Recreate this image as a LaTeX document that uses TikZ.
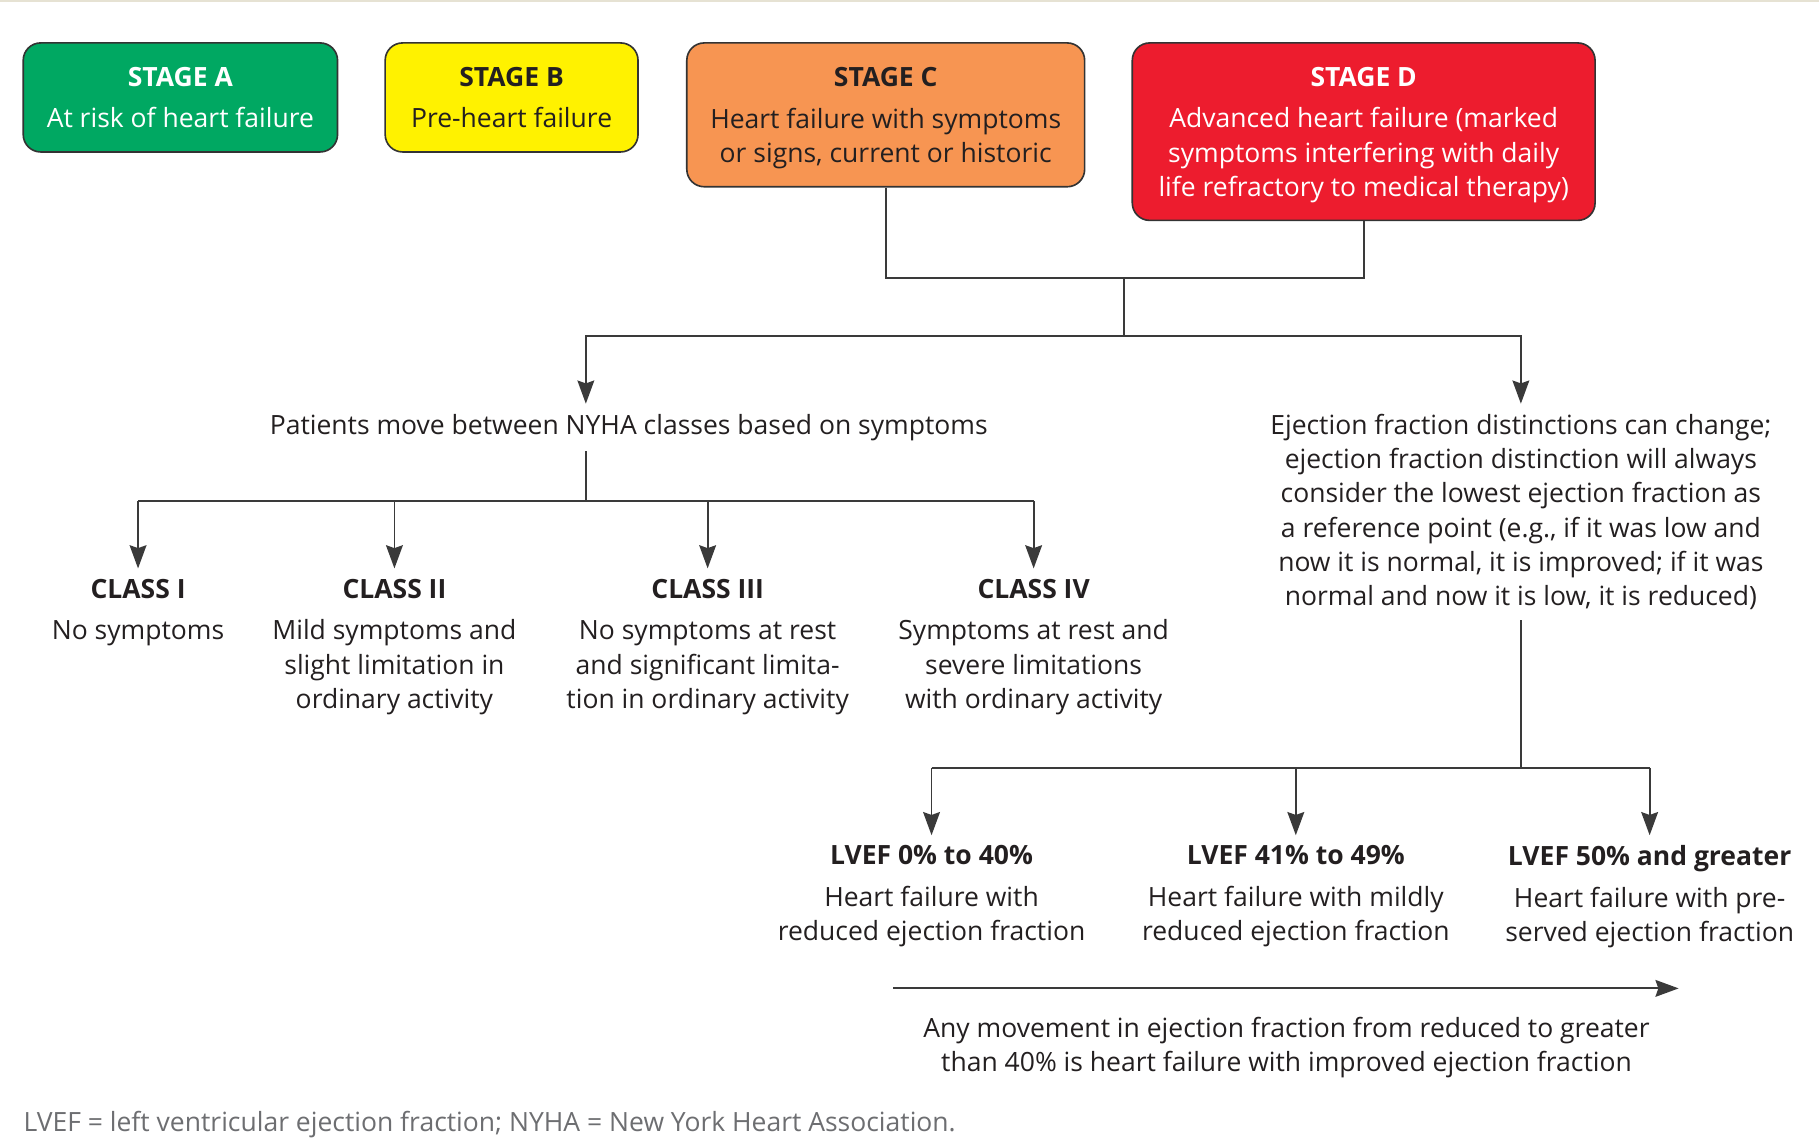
\documentclass[tikz,border=0pt]{standalone}
\usepackage{fontspec}
\setmainfont{Open Sans}
\usetikzlibrary{arrows.meta}

\definecolor{stagea}{HTML}{00A862}
\definecolor{stageb}{HTML}{FFF200}
\definecolor{stagec}{HTML}{F79552}
\definecolor{staged}{HTML}{ED1C2E}
\definecolor{ink}{HTML}{231F20}
\definecolor{wire}{HTML}{3A3A3A}
\definecolor{rule}{HTML}{E6E2D3}
\definecolor{note}{HTML}{6D6E71}

\tikzset{
  stagebox/.style={draw=black!80,line width=0.8pt,rounded corners=0.3cm,align=center,inner sep=0pt,text depth=0pt},
  txt/.style={align=center,inner sep=0pt,outer sep=0.18cm},
  link/.style={draw=wire,line width=0.9pt},
  arr/.style={link,-{Stealth[length=0.4cm,width=0.29cm,inset=0.05cm]}}
}

\begin{document}
\begin{tikzpicture}[x=0.02cm,y=-0.02cm,font=\fontsize{13}{16.8}\selectfont,text=ink]
\useasboundingbox (0,0) rectangle (1568,982);
\fill[rule] (0,0) rectangle (1568,2);

% stages
\node (stageA) [stagebox,fill=stagea,text=white,minimum width=5.42cm,minimum height=1.88cm] at (155.5,84)
  {\textbf{STAGE A}\\[3.7pt]At risk of heart failure};
\node (stageB) [stagebox,fill=stageb,minimum width=4.36cm,minimum height=1.88cm] at (441,84)
  {\textbf{STAGE B}\\[3.7pt]Pre-heart failure};
\node (stageC) [stagebox,fill=stagec,minimum width=6.86cm,minimum height=2.48cm] at (763.5,99)
  {\textbf{STAGE C}\\[3.7pt]Heart failure with symptoms\\or signs, current or historic};
\node (stageD) [stagebox,fill=staged,text=white,minimum width=7.98cm,minimum height=3.06cm] at (1175.5,113.5)
  {\textbf{STAGE D}\\[3.7pt]Advanced heart failure (marked\\symptoms interfering with daily\\life refractory to medical therapy)};

\coordinate (cd) at (969,240);
\coordinate (split) at (969,290);
\draw[link] (stageC.south) |- (cd);
\draw[link] (stageD.south) |- (cd);
\draw[link] (cd) -- (split);

\node (nyha) [txt,anchor=north] at (542,348) {Patients move between NYHA classes based on symptoms};
\coordinate (nyhaIn) at (505,348);
\node (ejfrac) [txt,anchor=north] at (1311,348)
  {Ejection fraction distinctions can change;\\ejection fraction distinction will always\\consider the lowest ejection fraction as\\a reference point (e.g., if it was low and\\now it is normal, it is improved; if it was\\normal and now it is low, it is reduced)};
\draw[arr] (split) -| (nyhaIn);
\draw[arr] (split) -| (ejfrac.north);

% NYHA classes
\foreach \x/\name/\title/\desc in {119/cls1/{CLASS I}/{No symptoms},
    340/cls2/{CLASS II}/{Mild symptoms and\\slight limitation in\\ordinary activity},
    610/cls3/{CLASS III}/{No symptoms at rest\\and significant limita-\\tion in ordinary activity},
    891/cls4/{CLASS IV}/{Symptoms at rest and\\severe limitations\\with ordinary activity}}
  \node (\name) [txt,anchor=north] at (\x,490) {\textbf{\title}\\[3.7pt]\desc};

\coordinate (clsbar) at (505,432);
\draw[link] (nyhaIn |- nyha.south) -- (clsbar);
\draw[link] (cls1.north |- clsbar) -- (cls4.north |- clsbar);
\foreach \name in {cls1,cls2,cls3,cls4}
  \draw[arr] (\name.north |- clsbar) -- (\name.north);

% ejection fraction groups
\foreach \x/\name/\title/\desc in {803/lv1/{LVEF 0\% to 40\%}/{Heart failure with\\reduced ejection fraction},
    1117/lv2/{LVEF 41\% to 49\%}/{Heart failure with mildly\\reduced ejection fraction},
    1422/lv3/{LVEF 50\% and greater}/{Heart failure with pre-\\served ejection fraction}}
  \node (\name) [txt,anchor=north] at (\x,720) {\textbf{\title}\\[3.7pt]\desc};

\coordinate (efbar) at (1311,662);
\draw[link] (ejfrac.south) -- (efbar);
\draw[link] (lv1.north |- efbar) -- (lv3.north |- efbar);
\foreach \name in {lv1,lv2,lv3}
  \draw[arr] (\name.north |- efbar) -- (\name.north);

\coordinate (mvA) at (770,852);
\coordinate (mvB) at (1447,852);
\draw[arr] (mvA) -- (mvB);
\node (improved) [txt,anchor=north] at (1109,868)
  {Any movement in ejection fraction from reduced to greater\\than 40\% is heart failure with improved ejection fraction};

\node (abbr) [anchor=base west,inner sep=0pt,text=note] at (20,975)
  {LVEF = left ventricular ejection fraction; NYHA = New York Heart Association.};
\end{tikzpicture}
\end{document}
